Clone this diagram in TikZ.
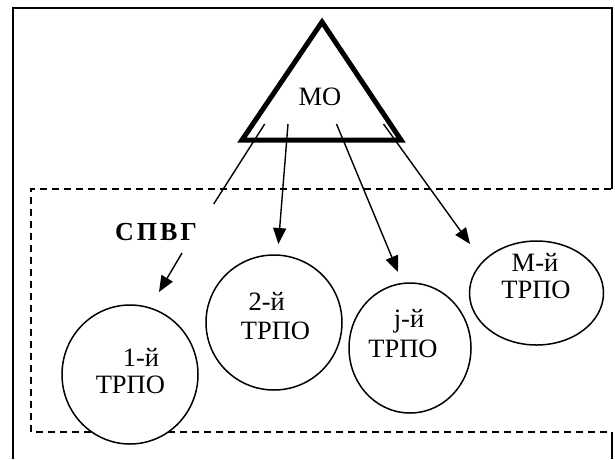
\documentclass[tikz,border=0pt]{standalone}
\usepackage{fontspec}
\setmainfont{Liberation Serif}
\usetikzlibrary{arrows.meta,shapes.geometric}
\begin{document}
\begin{tikzpicture}[x=1pt,y=-1pt,
  frame/.style={line width=1.7pt},
  dbox/.style={line width=1.6pt,dash pattern=on 7pt off 5pt},
  tri/.style={line width=5pt,miter limit=10},
  trpo/.style={draw,ellipse,line width=1.5pt,fill=white},
  conn/.style={line width=1.4pt},
  arr/.style={conn,-{Triangle[length=16pt,width=13pt]}},
  lbl/.style={font=\fontsize{26.5}{28}\selectfont,align=center,inner sep=0pt}]
\useasboundingbox (0,0) rectangle (615,459);
% outer frame
\draw[frame] (13,459) -- (13,8) -- (612,8) -- (612,189);
\draw[frame] (612,432) -- (612,459);
% dashed box
\draw[dbox] (611,189) -- (31,189) -- (31,432) -- (611,432);
% triangle
\draw[tri] (322,22) -- (401,140) -- (242,140) -- cycle;
\node[lbl] (mo) at (320,97) {МО};
% start coordinates
\coordinate (s1) at (264.7,124);
\coordinate (e1) at (213.7,204);
\coordinate (s2) at (288,124);
\coordinate (t2) at (278.4,244);
\coordinate (s3) at (336.5,124);
\coordinate (t3) at (398,272);
\coordinate (s4) at (383.5,124);
\coordinate (t4) at (470,244);
\coordinate (sg1) at (182,253);
\coordinate (sg2) at (159,292);
% circles
\node[trpo,minimum width=136pt,minimum height=139pt] (c1) at (130,374.5) {};
\node[trpo,minimum width=136pt,minimum height=135pt] (c2) at (274,322.5) {};
\node[trpo,minimum width=122pt,minimum height=130pt] (c3) at (410,348) {};
\node[trpo,minimum width=134pt,minimum height=104pt] (c4) at (536.5,293) {};
% texts
\node[lbl] (c1a) at (141,357) {1-й};
\node[lbl] (c1b) at (130.4,385) {ТРПО};
\node[lbl] (c2a) at (266.7,301.5) {2-й};
\node[lbl] (c2b) at (275.5,331) {ТРПО};
\node[lbl] (c3a) at (409,321.5) {j-й};
\node[lbl] (c3b) at (403,349) {ТРПО};
\node[lbl] (c4a) at (535,262) {М-й};
\node[lbl] (c4b) at (536,290) {ТРПО};
\node[lbl,font=\fontsize{26}{28}\selectfont\bfseries] (spvg) at (156,232) {С\kern3pt П\kern3pt В\kern3pt Г};
% connectors
\draw[conn] (s1) -- (e1);
\draw[arr] (s2) -- (t2);
\draw[arr] (s3) -- (t3);
\draw[arr] (s4) -- (t4);
\draw[arr] (sg1) -- (sg2);
\end{tikzpicture}
\end{document}
